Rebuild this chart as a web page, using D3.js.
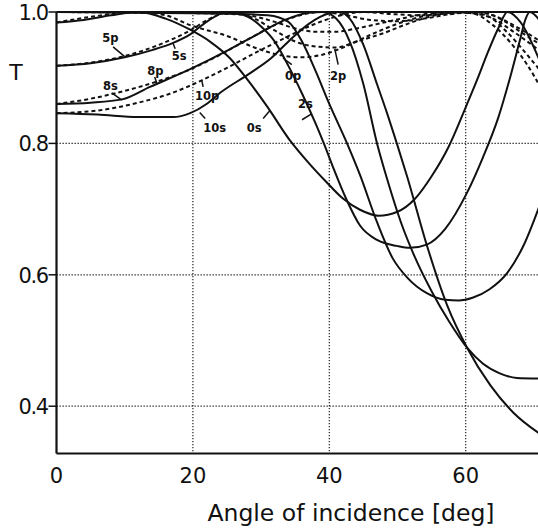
<!DOCTYPE html>
<html>
<head>
<meta charset="utf-8">
<script src="https://cdn.jsdelivr.net/npm/d3@7"></script>
<style>
body { margin: 0; background: #fff; }
svg { display: block; }
</style>
</head>
<body>
<svg id="chart"></svg>
<script>
// tick values
var xTicks = [0, 20, 40, 60];
var yTicks = [0.4, 0.6, 0.8, 1.0];
var yTickLabels = ["0.4", "0.6", "0.8", "1.0"];

// s-polarisation (solid), [angle, T]
var curve0s = [[0,0.984],[4,0.988],[8,0.995],[12,1.0],[16,0.99],[19.6,0.973],[22.5,0.955],[25.4,0.93],[28,0.897],[30.9,0.856],[34.2,0.805],[37,0.77],[39.5,0.742],[42,0.716],[44.5,0.699],[47.2,0.69],[50,0.696],[52.5,0.715],[55,0.75],[57.5,0.795],[59.8,0.85],[61.8,0.9],[63.3,0.94],[64.9,0.978],[66.1,1.0],[68,0.985],[71,0.922]];
var curve5s = [[0,0.918],[5,0.922],[10,0.931],[14,0.942],[17.1,0.953],[19.6,0.966],[22,0.985],[25,1.0],[28,0.993],[30,0.978],[32,0.955],[34,0.918],[36,0.876],[38,0.83],[39.2,0.8],[40.5,0.765],[42.5,0.715],[44.5,0.675],[47,0.653],[49.9,0.644],[51.8,0.641],[54.3,0.646],[57,0.67],[60.2,0.725],[62.5,0.778],[64.8,0.84],[66.5,0.9],[67.9,0.955],[68.8,0.99],[69.4,1.0],[71,0.985]];
var curve2s = [[0,1.0],[10,0.999],[20,0.998],[27,0.997],[31,0.995],[34,0.985],[36,0.955],[38,0.91],[40,0.86],[42.6,0.8],[44.5,0.752],[47,0.68],[49.3,0.625],[51.5,0.595],[54.3,0.572],[57,0.562],[59,0.561],[61,0.565],[63.5,0.578],[66.1,0.603],[68.5,0.645],[71,0.71]];
var curve8s = [[0,0.86],[5,0.862],[9.6,0.867],[13.7,0.886],[19.6,0.913],[25.4,0.943],[29.8,0.968],[33.5,0.988],[37,0.999],[39,1.0],[41,0.99],[43,0.955],[45,0.89],[47,0.8],[48.5,0.745],[50.5,0.68],[52.5,0.628],[55,0.575],[57.5,0.53],[60.2,0.489],[62.5,0.465],[65,0.45],[67.5,0.443],[71,0.442]];
var curve10s = [[0,0.846],[6,0.844],[12,0.84],[17.1,0.84],[19.6,0.846],[22,0.86],[24,0.877],[28.4,0.907],[31.5,0.93],[34.2,0.957],[37,0.982],[40,0.998],[41.5,1.0],[43,0.99],[45,0.95],[47,0.89],[48.5,0.845],[49.9,0.8],[51.4,0.75],[54.3,0.645],[57.3,0.553],[60.2,0.489],[63.6,0.432],[67,0.39],[71,0.357]];

// p-polarisation (dashed)
var curve0p = [[0,0.984],[6,0.994],[12,1.0],[16,0.995],[19.6,0.98],[25.4,0.962],[29,0.946],[33,0.934],[36,0.931],[39,0.935],[42.5,0.948],[46,0.965],[50,0.982],[54,0.994],[58,1.0],[61,0.998],[64,0.98],[67,0.948],[69,0.92],[71,0.885]];
var curve5p = [[0,0.918],[5,0.923],[10,0.933],[14.5,0.948],[19.6,0.972],[22.5,0.99],[25.5,1.0],[29,0.99],[32,0.972],[35,0.955],[38.5,0.947],[41,0.946],[44,0.955],[48,0.968],[52,0.984],[56,0.996],[60,1.0],[63,0.995],[66,0.97],[69,0.935],[71,0.91]];
var curve2p = [[0,1.0],[12,0.999],[22,0.998],[28,0.995],[32,0.985],[35,0.975],[38,0.97],[41,0.97],[44,0.975],[48,0.984],[52,0.993],[57,1.0],[61,0.998],[64,0.99],[67,0.97],[71,0.94]];
var curve8p = [[0,0.86],[5,0.868],[10,0.88],[14.4,0.893],[19,0.91],[24,0.935],[28,0.958],[32,0.98],[36,0.996],[39,1.0],[42,0.996],[46,0.988],[50,0.986],[54,0.99],[58,0.997],[62,1.0],[65,0.99],[68,0.97],[71,0.95]];
var curve10p = [[0,0.846],[6,0.85],[12,0.862],[17,0.877],[21.3,0.896],[25,0.915],[29,0.937],[33,0.958],[37,0.978],[41,0.993],[45,1.0],[49,0.997],[53,0.995],[57,0.997],[61,1.0],[64,0.995],[67,0.98],[71,0.955]];

var solidCurves = [curve0s, curve2s, curve5s, curve8s, curve10s];
var dashedCurves = [curve0p, curve2p, curve5p, curve8p, curve10p];

// curve labels: text at [angle, T], pointer from p1 to p2
var labels = [
    {text: "5p", at: [6.7, 0.954], p1: [8.3, 0.947], p2: [10, 0.932]},
    {text: "5s", at: [16.9, 0.927], p1: [17.4, 0.944], p2: [17.1, 0.952]},
    {text: "8p", at: [13.3, 0.904], p1: [14.4, 0.901], p2: [14.7, 0.892]},
    {text: "8s", at: [6.8, 0.881], p1: [8.1, 0.877], p2: [9.6, 0.866]},
    {text: "10p", at: [20.3, 0.866], p1: [21.5, 0.886], p2: [21.3, 0.896]},
    {text: "10s", at: [21.5, 0.817], p1: [21.8, 0.838], p2: [21.0, 0.847]},
    {text: "0s", at: [27.9, 0.817], p1: [30.3, 0.838], p2: [31.3, 0.85]},
    {text: "0p", at: [33.5, 0.896], p1: [34.5, 0.92], p2: [33.2, 0.93]},
    {text: "2p", at: [40.1, 0.896], p1: [41.3, 0.92], p2: [40.8, 0.944]},
    {text: "2s", at: [35.4, 0.854], p1: [36.0, 0.836], p2: [37.4, 0.845]}
];

var width = 538;
var height = 530;

var svg = d3.select("#chart")
    .attr("width", width)
    .attr("height", height);

var xScale = d3.scaleLinear()
    .domain([0, 60])
    .range([56.5, 465.7]);
var yScale = d3.scaleLinear()
    .domain([0.328, 1.0])
    .range([453.5, 12]);

var plotLeft = xScale(0);
var plotTop = yScale(1.0);
var plotBottom = yScale(0.328);
var plotRight = xScale(90);

svg.append("clipPath")
    .attr("id", "plotclip")
    .append("rect")
    .attr("x", plotLeft)
    .attr("y", plotTop - 1)
    .attr("width", plotRight - plotLeft)
    .attr("height", plotBottom - plotTop + 1);

// dotted grid
var grid = svg.append("g").attr("stroke", "#222").attr("stroke-width", 1.2)
    .attr("stroke-dasharray", "1.3,1.7");
grid.selectAll("line.gx")
    .data([20, 40, 60, 80])
    .enter()
    .append("line")
    .attr("x1", function(d) { return xScale(d); })
    .attr("x2", function(d) { return xScale(d); })
    .attr("y1", plotTop)
    .attr("y2", plotBottom);
grid.selectAll("line.gy")
    .data([0.4, 0.6, 0.8])
    .enter()
    .append("line")
    .attr("x1", plotLeft)
    .attr("x2", plotRight)
    .attr("y1", function(d) { return yScale(d); })
    .attr("y2", function(d) { return yScale(d); });

// curves
var line = d3.line()
    .x(function(d) { return xScale(d[0]); })
    .y(function(d) { return yScale(d[1]); })
    .curve(d3.curveMonotoneX);

var plot = svg.append("g").attr("clip-path", "url(#plotclip)");
plot.selectAll("path.s")
    .data(solidCurves)
    .enter()
    .append("path")
    .attr("d", line)
    .attr("fill", "none")
    .attr("stroke", "#111")
    .attr("stroke-width", 2);
plot.selectAll("path.p")
    .data(dashedCurves)
    .enter()
    .append("path")
    .attr("d", line)
    .attr("fill", "none")
    .attr("stroke", "#111")
    .attr("stroke-width", 2)
    .attr("stroke-dasharray", "4,3");

// frame: left, bottom and top
var frame = svg.append("g").attr("stroke", "#111").attr("stroke-width", 2.2);
frame.append("line").attr("x1", plotLeft).attr("x2", plotLeft).attr("y1", plotTop).attr("y2", plotBottom);
frame.append("line").attr("x1", plotLeft).attr("x2", width).attr("y1", plotBottom).attr("y2", plotBottom);
frame.append("line").attr("x1", plotLeft).attr("x2", width).attr("y1", plotTop).attr("y2", plotTop);

// y ticks and labels
svg.selectAll("line.yt")
    .data(yTicks)
    .enter()
    .append("line")
    .attr("x1", plotLeft - 8)
    .attr("x2", plotLeft)
    .attr("y1", function(d) { return yScale(d); })
    .attr("y2", function(d) { return yScale(d); })
    .attr("stroke", "#111")
    .attr("stroke-width", 1.5);
svg.selectAll("text.yl")
    .data(yTicks)
    .enter()
    .append("text")
    .attr("x", plotLeft - 9)
    .attr("y", function(d) { return yScale(d) + 8; })
    .attr("text-anchor", "end")
    .attr("font-family", "DejaVu Sans")
    .attr("font-size", 21)
    .attr("letter-spacing", -1.5)
    .attr("fill", "#111")
    .text(function(d, i) { return yTickLabels[i]; });

// x tick labels
svg.selectAll("text.xl")
    .data(xTicks)
    .enter()
    .append("text")
    .attr("x", function(d) { return xScale(d); })
    .attr("y", 483)
    .attr("text-anchor", "middle")
    .attr("font-family", "DejaVu Sans")
    .attr("font-size", 21)
    .attr("fill", "#111")
    .text(function(d) { return d; });

svg.append("text")
    .attr("x", 16)
    .attr("y", 80)
    .attr("text-anchor", "middle")
    .attr("font-family", "DejaVu Sans")
    .attr("font-size", 22)
    .attr("fill", "#111")
    .text("T");

svg.append("text")
    .attr("x", 351)
    .attr("y", 521)
    .attr("text-anchor", "middle")
    .attr("font-family", "DejaVu Sans")
    .attr("font-size", 23.5)
    .attr("fill", "#111")
    .text("Angle of incidence [deg]");

// curve labels with pointer lines
var ann = svg.append("g");
ann.selectAll("line")
    .data(labels)
    .enter()
    .append("line")
    .attr("x1", function(d) { return xScale(d.p1[0]); })
    .attr("y1", function(d) { return yScale(d.p1[1]); })
    .attr("x2", function(d) { return xScale(d.p2[0]); })
    .attr("y2", function(d) { return yScale(d.p2[1]); })
    .attr("stroke", "#111")
    .attr("stroke-width", 1.5);
ann.selectAll("text")
    .data(labels)
    .enter()
    .append("text")
    .attr("x", function(d) { return xScale(d.at[0]); })
    .attr("y", function(d) { return yScale(d.at[1]); })
    .attr("font-family", "DejaVu Sans")
    .attr("font-weight", "bold")
    .attr("font-size", 11.5)
    .attr("fill", "#111")
    .text(function(d) { return d.text; });
</script>
</body>
</html>
